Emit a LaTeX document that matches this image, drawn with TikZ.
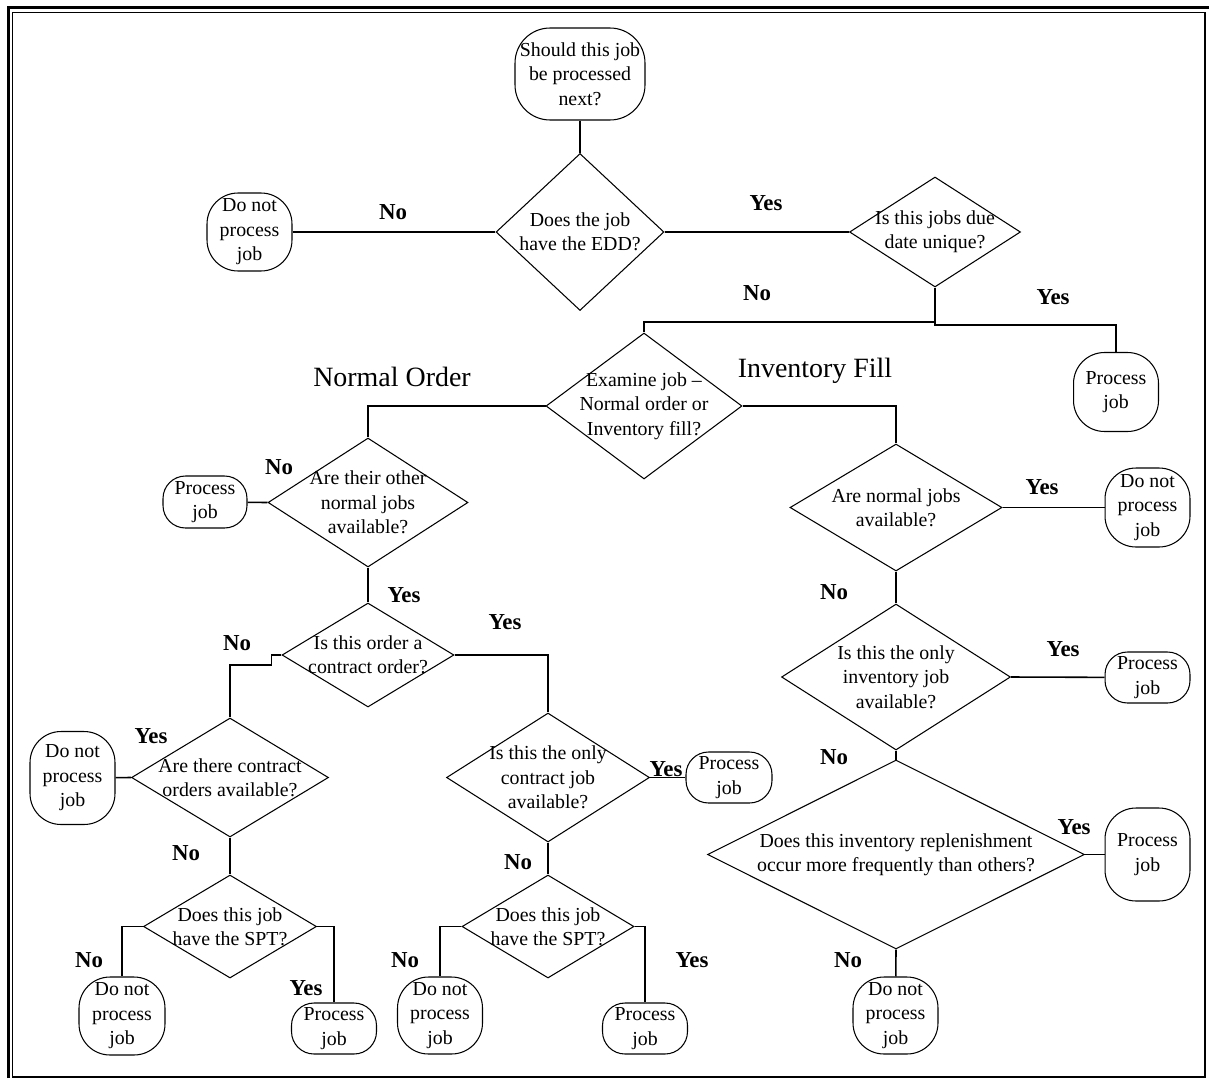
\documentclass[tikz,border=0pt]{standalone}
\usepackage{fontspec}
\setmainfont{Liberation Serif}
\usetikzlibrary{shapes.geometric}

\newcommand{\qfont}{\fontsize{11.3}{13.9}\selectfont}
\newcommand{\ansfont}{\fontsize{13}{15}\selectfont\bfseries}
\newcommand{\brfont}{\fontsize{15.9}{18}\selectfont}

\tikzset{
  endbox/.style={draw, line width=0.6pt, rounded corners=0.45cm, align=center,
                 inner sep=0pt, minimum width=1.7cm, font=\qfont},
  endtall/.style={endbox, rounded corners=0.62cm},
  dia/.style={draw, diamond, line width=0.6pt, inner sep=0pt},
  qtext/.style={align=center, font=\qfont, inner sep=0pt},
  answer/.style={font=\ansfont, inner sep=0pt},
  branch/.style={font=\brfont, inner sep=0pt},
  link/.style={line width=0.9pt}
}

\begin{document}
\begin{tikzpicture}[x=0.02cm, y=-0.02cm]
\useasboundingbox (0,0) rectangle (1209,1078);
%frame
\draw[line width=1.7pt] (8.5,1078)--(8.5,7.5)--(1209,7.5);
\draw[line width=1.1pt] (12.5,12.5) rectangle (1205,1077);

%top - decisions
\node[endtall, rounded corners=0.7cm, minimum width=2.6cm, minimum height=1.84cm] (start) at (580,74) {Should this job\\be processed\\next?};
\node[dia, minimum width=3.36cm, minimum height=3.14cm, label={[qtext]center:Does the job\\have the EDD?}] (edd) at (580,232) {};
\node[dia, minimum width=3.42cm, minimum height=2.2cm, label={[qtext]center:Is this jobs due\\date unique?}] (due) at (935,232) {};
\node[dia, minimum width=3.92cm, minimum height=2.92cm, label={[qtext]center:Examine job --\\Normal order or\\Inventory fill?}] (exam) at (644,406) {};
%top - ends
\node[endtall, minimum height=1.56cm] (dnpA) at (249.5,232) {Do not\\process\\job};
\node[endtall, minimum height=1.58cm] (prA) at (1116,392) {Process\\job};
%top - lines
\coordinate (jl) at (935,322);
\coordinate (jr) at (935,325);
\draw[link] (start)--(edd);            %start--EDD
\draw[link] (edd.west)--(dnpA);        %EDD--no
\draw[link] (edd.east)--(due.west);    %EDD--yes
\draw[link] (due.south)--(jl) -| (exam.north);  %due--no
\draw[link] (jl)--(jr) -| (prA.north);          %due--yes

%left - decisions
\node[dia, minimum width=4cm, minimum height=2.58cm, label={[qtext]center:Are their other\\normal jobs\\available?}] (other) at (368,502.5) {};
\node[dia, minimum width=3.44cm, minimum height=2.08cm, label={[qtext]center:Is this order a\\contract order?}] (contr) at (368,655) {};
\node[dia, minimum width=3.94cm, minimum height=2.38cm, label={[qtext]center:Are there contract\\orders available?}] (there) at (230,777.5) {};
\node[dia, minimum width=4.06cm, minimum height=2.58cm, label={[qtext]center:Is this the only\\contract job\\available?}] (only) at (548,777.5) {};
\node[dia, minimum width=3.46cm, minimum height=2.06cm, label={[qtext]center:Does this job\\have the SPT?}] (sptl) at (230,926.5) {};
\node[dia, minimum width=3.44cm, minimum height=2.06cm, label={[qtext]center:Does this job\\have the SPT?}] (sptm) at (548,926.5) {};
%left - ends
\node[endbox, minimum width=1.68cm, minimum height=1.04cm] (prB) at (205,502) {Process\\job};
\node[endtall, minimum height=1.86cm] (dnpD) at (72.5,778) {Do not\\process\\job};
\node[endtall, minimum width=1.72cm, minimum height=1.56cm] (dnpE) at (122,1016) {Do not\\process\\job};
\node[endbox, minimum height=1.02cm] (prE) at (334,1028.5) {Process\\job};
\node[endbox, minimum width=1.72cm, minimum height=1.02cm] (prF) at (729,777.5) {Process\\job};
\node[endtall, minimum height=1.54cm] (dnpF) at (440,1015.5) {Do not\\process\\job};
\node[endbox, minimum height=1.02cm] (prG) at (645,1028.5) {Process\\job};
%left - lines
\draw[link] (exam.west) -| (other.north);       %examine--normal
\draw[link] (other.west)--(prB);                %other--no
\draw[link] (other.south)--(contr.north);       %other--yes
\draw[link] (contr.west)--++(-10,0)--++(0,10) -| (there.north); %contract--no
\draw[link] (contr.east) -| (only.north);       %contract--yes
\draw[link] (there.west)--(dnpD);               %there--yes
\draw[link] (there.south)--(sptl.north);        %there--no
\draw[link] (sptl.west) -| (dnpE.north);        %spt--no
\draw[link] (sptl.east) -| (prE.north);         %spt--yes
\draw[link] (only.east)--(prF);                 %only--yes
\draw[link] (only.south)--(sptm.north);         %only--no
\draw[link] (sptm.west) -| (dnpF.north);        %spt--no
\draw[link] (sptm.east) -| (prG.north);         %spt--yes

%right - decisions
\node[dia, minimum width=4.24cm, minimum height=2.54cm, label={[qtext]center:Are normal jobs\\available?}] (norm) at (896,507.5) {};
\node[dia, minimum width=4.58cm, minimum height=2.92cm, label={[qtext]center:Is this the only\\inventory job\\available?}] (inv) at (896,677) {};
\node[dia, minimum width=7.54cm, minimum height=3.78cm, label={[qtext]center:Does this inventory replenishment\\occur more frequently than others?}] (rep) at (896,854.5) {};
%right - ends
\node[endtall, minimum height=1.58cm] (dnpB) at (1147.5,507.5) {Do not\\process\\job};
\node[endbox, minimum height=1.02cm] (prC) at (1147.5,677.5) {Process\\job};
\node[endtall, minimum height=1.86cm] (prD) at (1147.5,854.5) {Process\\job};
\node[endtall, minimum height=1.54cm] (dnpC) at (895.5,1015.5) {Do not\\process\\job};
%right - lines
\draw[link] (exam.east) -| (norm.north);        %examine--inventory
\draw[link] (norm.east)--(dnpB);                %normal--yes
\draw[link] (norm.south)--(inv.north);          %normal--no
\draw[link] (inv.east)--(prC);                  %inventory--yes
\draw[link] (inv.south)--(rep.north);           %inventory--no
\draw[link] (rep.east)--(prD);                  %replenish--yes
\draw[link] (rep.south)--(dnpC);                %replenish--no

%answers
\node[answer] (a1) at (393,212) {No};
\node[answer] (a2) at (766,203) {Yes};
\node[answer] (a3) at (757,293) {No};
\node[answer] (a4) at (1053,297) {Yes};
\node[branch] (b1) at (392,377) {Normal Order};
\node[branch] (b2) at (815,371) {Inventory Fill};
\node[answer] (a5) at (279,467) {No};
\node[answer] (a6) at (1042,487) {Yes};
\node[answer] (a7) at (834,592) {No};
\node[answer] (a8) at (404,595) {Yes};
\node[answer] (a9) at (505,622) {Yes};
\node[answer] (a10) at (237,643) {No};
\node[answer] (a11) at (1063,649) {Yes};
\node[answer] (a12) at (151,736) {Yes};
\node[answer] (a13) at (834,757) {No};
\node[answer] (a14) at (666,769) {Yes};
\node[answer] (a15) at (1074,827) {Yes};
\node[answer] (a16) at (186,853) {No};
\node[answer] (a17) at (518,862) {No};
\node[answer] (a18) at (89,960) {No};
\node[answer] (a19) at (405,960) {No};
\node[answer] (a20) at (692,960) {Yes};
\node[answer] (a21) at (848,960) {No};
\node[answer] (a22) at (306,988) {Yes};
\end{tikzpicture}
\end{document}
